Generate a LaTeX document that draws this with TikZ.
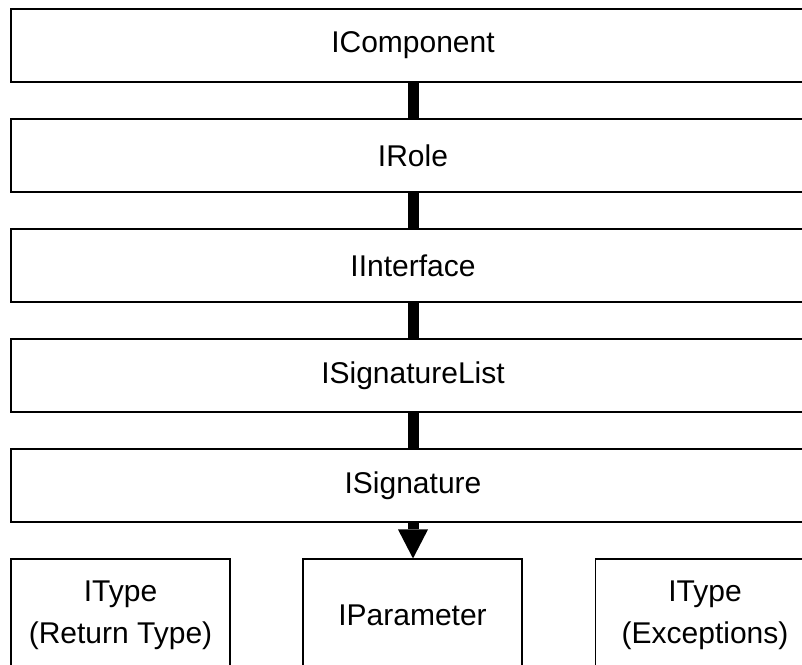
\documentclass[tikz,border=0pt]{standalone}
\usepackage{fontspec}
\setmainfont{Liberation Sans}
\usetikzlibrary{arrows.meta}
\begin{document}
\begin{tikzpicture}[x=1pt,y=1pt,
  bigbox/.style={draw=black, line width=1.8pt, minimum width=804pt, minimum height=73pt, inner sep=0pt, font=\fontsize{30}{36}\selectfont},
  smallbox/.style={draw=black, line width=1.1pt, minimum width=219pt, minimum height=112pt, inner sep=0pt, align=center, font=\fontsize{30}{42}\selectfont},
  bar/.style={line width=11pt, black}]
\useasboundingbox (0,0) rectangle (802,664);
\clip (0,0) rectangle (802,664);
\fill[white] (0,0) rectangle (802,664);
\node[bigbox] (c1) at (413,618.5) {IComponent};
\node[bigbox] (c2) at (413,508.5) {IRole};
\node[bigbox] (c3) at (413,398.5) {IInterface};
\node[bigbox] (c4) at (413,288.5) {ISignatureList};
\node[bigbox] (c5) at (413,178.5) {ISignature};
\node[smallbox] (t1) at (120.5,49) {IType\\(Return Type)};
\node[smallbox] (p) at (412.5,49) {IParameter};
\node[smallbox] (t2) at (705,49) {IType\\(Exceptions)};
\draw[bar] (c1.south) -- (c2.north);
\draw[bar] (c2.south) -- (c3.north);
\draw[bar] (c3.south) -- (c4.north);
\draw[bar] (c4.south) -- (c5.north);
\draw[bar, -{Triangle[length=29pt,width=30pt,line width=0pt]}] (c5.south) -- (c5.south |- p.north);
\end{tikzpicture}
\end{document}
